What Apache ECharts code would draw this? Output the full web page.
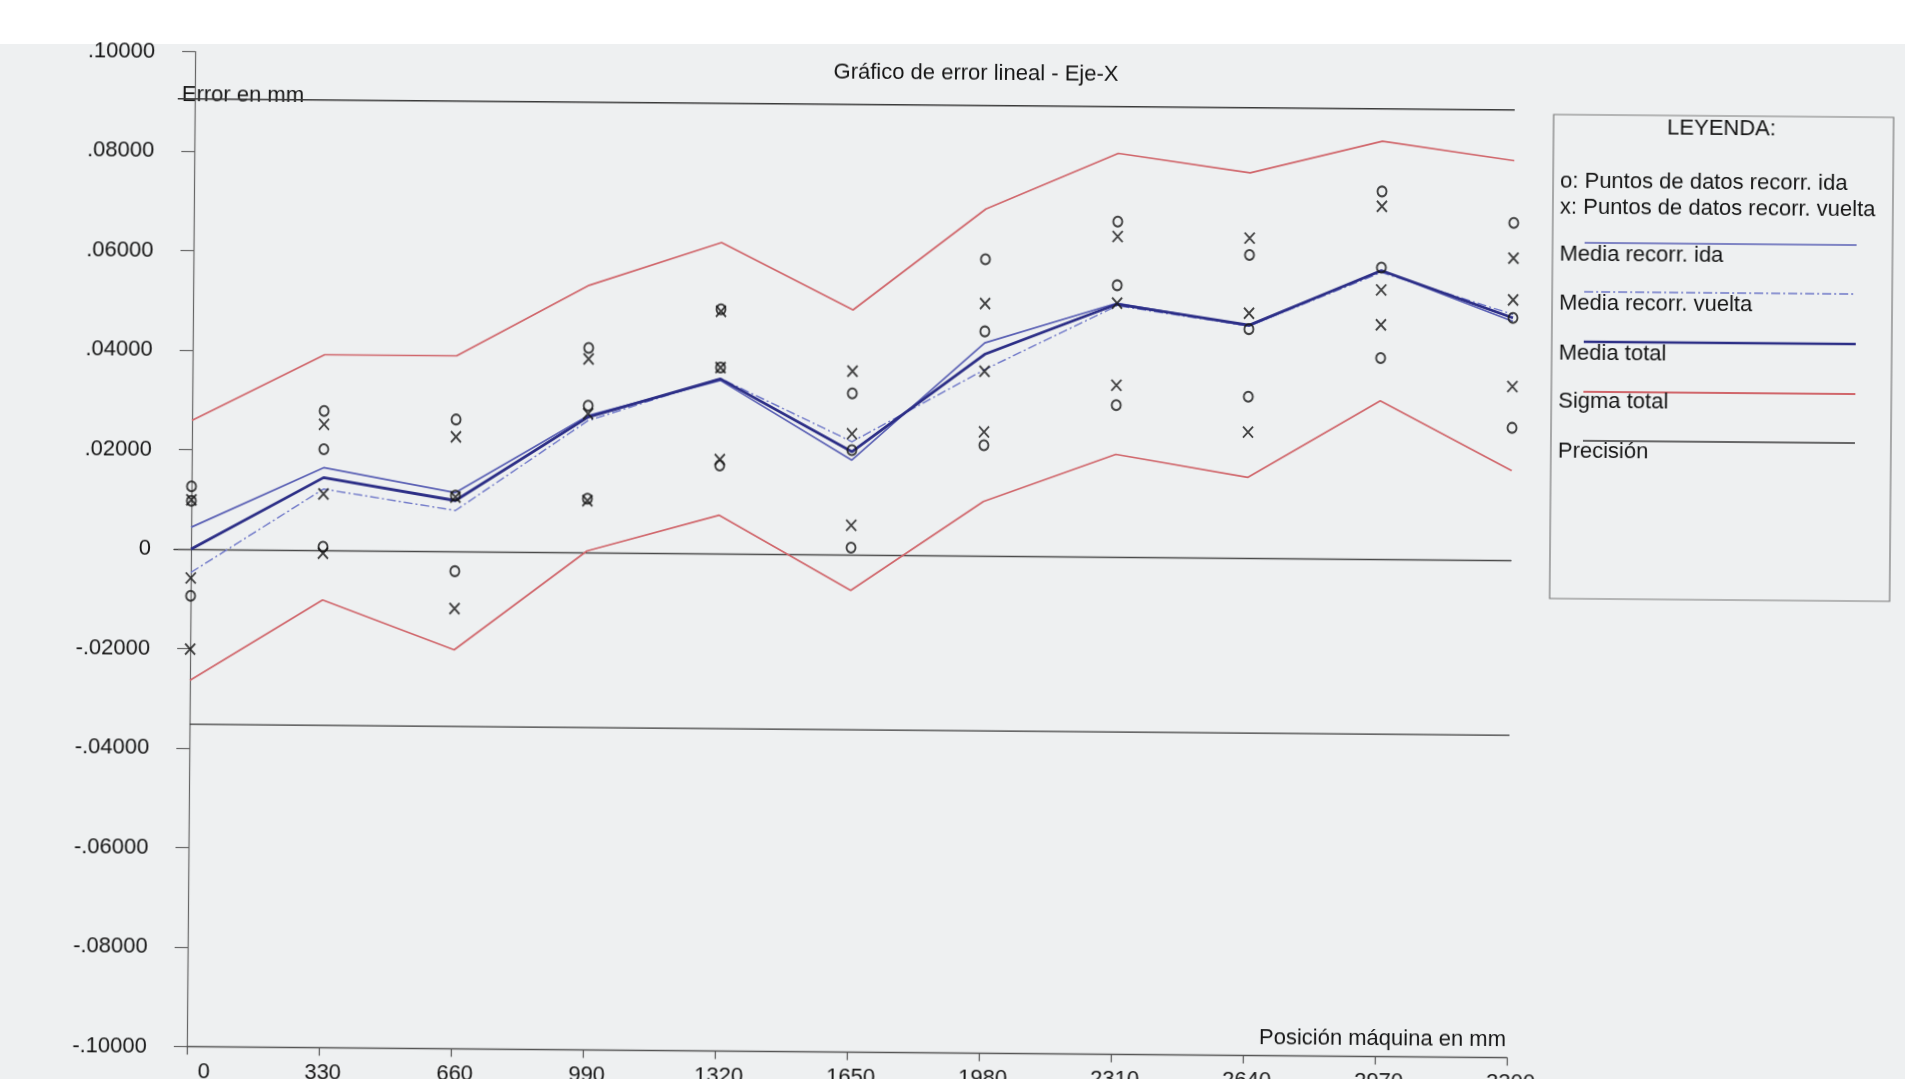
<!DOCTYPE html>
<html>
<head>
<meta charset="utf-8">
<title>Gráfico de error lineal - Eje-X</title>
<script src="https://cdn.jsdelivr.net/npm/echarts@6/dist/echarts.min.js"></script>
<style>
  html, body { margin: 0; padding: 0; width: 1905px; height: 1079px; overflow: hidden; background: #ffffff; }
  #paper { position: absolute; left: 0; top: 44px; width: 1905px; height: 1035px; background: #eef0f1; }
  /* the printed sheet sits slightly skewed on the scanner bed */
  #chart { position: absolute; left: 0; top: 0; width: 1905px; height: 1079px;
           transform: rotate(0.48deg); transform-origin: 176px 549px; }
</style>
</head>
<body>
<div id="paper"></div>
<div id="chart"></div>
<script>
// Machine positions along X (mm)
const positions = [0, 330, 660, 990, 1320, 1650, 1980, 2310, 2640, 2970, 3300];
const xTickLabels = ['0', '330', '660', '990', '1320', '1650', '1980', '2310', '2640', '2970', '3300'];
const yTickLabels = ['-.10000', '-.08000', '-.06000', '-.04000', '-.02000', '0',
                     '.02000', '.04000', '.06000', '.08000', '.10000'];

// Measured points per position (mm): forward run (o) and return run (x)
const idaPoints = [
  [0.0126, 0.0097, -0.0094],
  [0.0280, 0.0203, 0.0007],
  [0.0265, 0.0112, -0.0040],
  [0.0411, 0.0295, 0.0108],
  [0.0491, 0.0374, 0.0177],
  [0.0324, 0.0210, 0.0014],
  [0.0596, 0.0451, 0.0222],
  [0.0674, 0.0546, 0.0305],
  [0.0609, 0.0460, 0.0324],
  [0.0739, 0.0586, 0.0404],
  [0.0678, 0.0487, 0.0266]
];
const vueltaPoints = [
  [0.0099, -0.0058, -0.0201],
  [0.0253, 0.0113, -0.0006],
  [0.0230, 0.0109, -0.0115],
  [0.0389, 0.0279, 0.0104],
  [0.0487, 0.0374, 0.0189],
  [0.0369, 0.0243, 0.0059],
  [0.0507, 0.0371, 0.0249],
  [0.0644, 0.0510, 0.0345],
  [0.0643, 0.0492, 0.0253],
  [0.0709, 0.0541, 0.0471],
  [0.0607, 0.0523, 0.0349]
];

// Mean and sigma curves (mm)
const mediaIda    = [0.0044, 0.0166, 0.0118, 0.0275, 0.0348, 0.0190, 0.0428, 0.0510, 0.0466, 0.0580, 0.0480];
const mediaVuelta = [-0.0047, 0.0123, 0.0082, 0.0265, 0.0352, 0.0227, 0.0374, 0.0505, 0.0466, 0.0576, 0.0494];
const mediaTotal  = [0.0000, 0.0146, 0.0102, 0.0272, 0.0351, 0.0207, 0.0405, 0.0508, 0.0468, 0.0580, 0.0487];
const sigmaSup    = [0.0259, 0.0393, 0.0393, 0.0537, 0.0625, 0.0492, 0.0697, 0.0811, 0.0774, 0.0840, 0.0803];
const sigmaInf    = [-0.0264, -0.0100, -0.0198, 0.0003, 0.0077, -0.0072, 0.0109, 0.0206, 0.0162, 0.0318, 0.0180];

// Precision band limits (mm)
const precisionLimits = [0.0905, -0.0352];

const Y_MIN = -0.1, Y_MAX = 0.1, Y_STEP = 0.02;
const X_AXIS_START = -42.5;   // y-axis sits a little left of position 0
const FONT = '"Liberation Sans", Arial, sans-serif';
const INK = '#151515';

const C_IDA = '#5a60b4';
const C_VUELTA = '#6f78c8';
const C_TOTAL = '#2c2e86';
const C_SIGMA = '#d0666b';
const C_PREC = '#3a3a3a';

const pair = (vals) => vals.map((v, i) => [positions[i], v]);
const scatterData = (pts) => {
  const out = [];
  pts.forEach((triple, i) => triple.forEach(v => out.push([positions[i], v])));
  return out;
};

const chart = echarts.init(document.getElementById('chart'), null, { renderer: 'canvas' });

const gridTop = 51.5, gridHeight = 995;

const lineSeries = (name, data, color, width, type, z) => ({
  name, type: 'line', xAxisIndex: 0, yAxisIndex: 0, data,
  symbol: 'none', silent: true, animation: false, clip: false, z: z || 2,
  lineStyle: { color, width, type: type || 'solid' }
});

function legendText(text, x, y, align) {
  return {
    type: 'text', x, y, silent: true,
    style: { text, fill: INK, font: '22px ' + FONT, fontSize: 22, fontFamily: FONT,
             align: align || 'left', verticalAlign: 'middle',
             textAlign: align || 'left', textVerticalAlign: 'middle' }
  };
}
function legendLine(y, color, width, dash) {
  return {
    type: 'line', silent: true,
    shape: { x1: 1582, y1: y, x2: 1854, y2: y },
    style: { stroke: color, lineWidth: width, lineDash: dash || null }
  };
}

const option = {
  backgroundColor: 'transparent',
  animation: false,
  grid: [
    { left: 174, top: gridTop, width: 1337, height: gridHeight, outerBoundsMode: 'none', containLabel: false },
    { left: 191, top: gridTop, width: 1320, height: gridHeight, outerBoundsMode: 'none', containLabel: false }
  ],
  xAxis: [
    {
      gridIndex: 0, type: 'value', min: X_AXIS_START, max: 3300,
      axisLine: { show: true, onZero: true, lineStyle: { color: '#4a4a4a', width: 1.4 } },
      axisTick: { show: false }, axisLabel: { show: false }, splitLine: { show: false }
    },
    {
      gridIndex: 1, type: 'value', min: 0, max: 3300, interval: 330, position: 'bottom',
      axisLine: { show: true, onZero: false, lineStyle: { color: '#555555', width: 1.3 } },
      axisTick: { show: true, length: 8, inside: false, lineStyle: { color: '#555555', width: 1.2 } },
      splitLine: { show: false },
      axisLabel: {
        show: true, margin: 14, color: INK, fontSize: 22, fontFamily: FONT,
        formatter: (v) => {
          const i = Math.round(v / 330);
          return i === 0 ? '{z|' + xTickLabels[i] + '}' : '{n|' + xTickLabels[i] + '}';
        },
        rich: {
          z: { fontSize: 22, fontFamily: FONT, color: INK, padding: [0, 0, 0, 34] },
          n: { fontSize: 22, fontFamily: FONT, color: INK, padding: [0, 0, 0, 8] }
        }
      }
    }
  ],
  yAxis: [
    {
      gridIndex: 0, type: 'value', min: Y_MIN, max: Y_MAX, interval: Y_STEP,
      axisLine: { show: true, lineStyle: { color: '#666666', width: 1.2 } },
      axisTick: { show: true, length: 13, inside: false, lineStyle: { color: '#666666', width: 1.2 } },
      splitLine: { show: false },
      axisLabel: {
        margin: 23, color: INK, fontSize: 22, fontFamily: FONT,
        formatter: (v) => yTickLabels[Math.round((v - Y_MIN) / Y_STEP)]
      }
    },
    { gridIndex: 1, type: 'value', min: Y_MIN, max: Y_MAX, show: false }
  ],
  series: [
    // precision band
    lineSeries('Precisión', [[X_AXIS_START, precisionLimits[0]], [3300, precisionLimits[0]]], C_PREC, 1.3),
    lineSeries('Precisión', [[0, precisionLimits[1]], [3300, precisionLimits[1]]], C_PREC, 1.3),
    // sigma envelope
    lineSeries('Sigma total', pair(sigmaSup), C_SIGMA, 1.7),
    lineSeries('Sigma total', pair(sigmaInf), C_SIGMA, 1.7),
    // mean curves
    lineSeries('Media recorr. ida', pair(mediaIda), C_IDA, 1.7, 'solid', 3),
    lineSeries('Media recorr. vuelta', pair(mediaVuelta), C_VUELTA, 1.4, [9, 3, 2, 3], 3),
    lineSeries('Media total', pair(mediaTotal), C_TOTAL, 2.8, 'solid', 4),
    // measured points
    {
      name: 'Puntos ida', type: 'scatter', xAxisIndex: 0, yAxisIndex: 0,
      data: scatterData(idaPoints), symbol: 'circle', symbolSize: [9, 10],
      itemStyle: { color: 'rgba(0,0,0,0)', borderColor: '#161616', borderWidth: 2 },
      silent: true, z: 6
    },
    {
      name: 'Puntos vuelta', type: 'scatter', xAxisIndex: 0, yAxisIndex: 0,
      data: scatterData(vueltaPoints), symbol: 'path://M0,0L10,11M10,0L0,11', symbolSize: [10, 11],
      itemStyle: { color: 'rgba(0,0,0,0)', borderColor: '#161616', borderWidth: 1.9 },
      silent: true, z: 6
    },
    // empty series to realise the bottom position axis
    { type: 'line', xAxisIndex: 1, yAxisIndex: 1, data: [], silent: true }
  ],
  graphic: [
    // chart labels
    legendText('Gráfico de error lineal - Eje-X', 972, 67, 'center'),
    legendText('Error en mm', 178, 95),
    legendText('Posición máquina en mm', 1510, 1029, 'right'),
    // legend box
    {
      type: 'rect', silent: true,
      shape: { x: 1550, y: 103, width: 340, height: 484 },
      style: { fill: 'none', stroke: '#7a7a7a', lineWidth: 1.2 }
    },
    legendText('LEYENDA:', 1718, 116, 'center'),
    legendText('o: Puntos de datos recorr. ida', 1557, 170),
    legendText('x: Puntos de datos recorr. vuelta', 1557, 196),
    legendLine(231, C_IDA, 1.6),
    legendText('Media recorr. ida', 1557, 243),
    legendLine(280, C_VUELTA, 1.3, [9, 3, 2, 3]),
    legendText('Media recorr. vuelta', 1557, 292),
    legendLine(330, C_TOTAL, 2.4),
    legendText('Media total', 1557, 342),
    legendLine(380, C_SIGMA, 1.8),
    legendText('Sigma total', 1557, 390),
    legendLine(429, C_PREC, 1.3),
    legendText('Precisión', 1557, 440)
  ]
};

chart.setOption(option);
</script>
</body>
</html>
